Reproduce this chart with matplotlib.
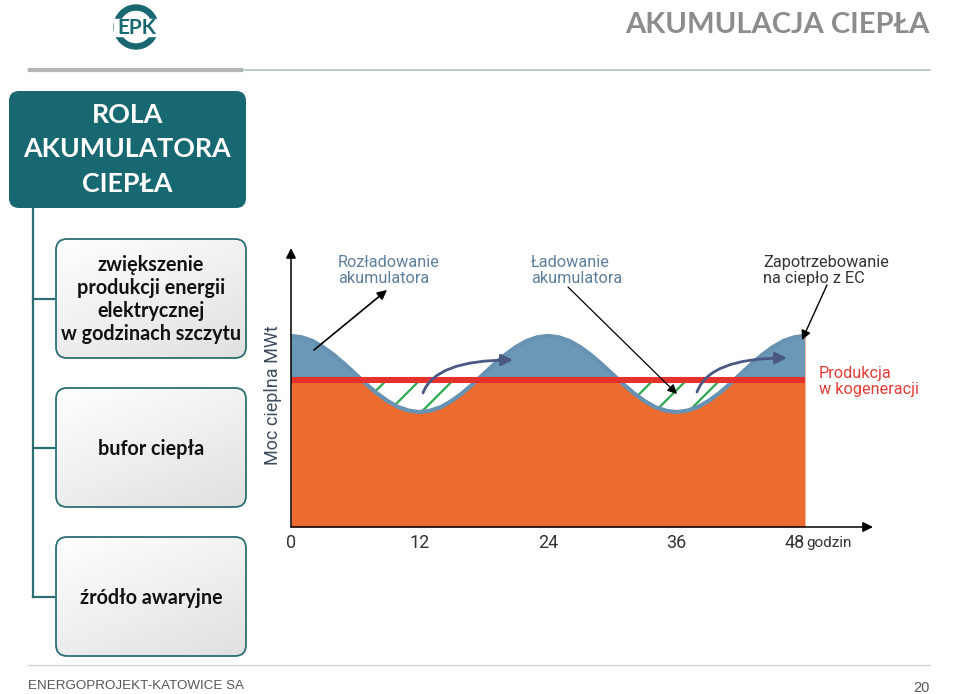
import numpy as np
import matplotlib
matplotlib.use('Agg')
import matplotlib.pyplot as plt
from matplotlib.patches import FancyBboxPatch, Wedge, Rectangle
from matplotlib.colors import LinearSegmentedColormap
from matplotlib import font_manager

# ---------------- data ----------------
hours = list(range(0, 49))
demand = [68.5, 68.0, 66.7, 64.5, 61.7, 58.4, 54.9, 51.3, 48.0, 45.2, 43.0, 41.7,
          41.2, 41.7, 43.0, 45.2, 48.0, 51.3, 54.9, 58.4, 61.7, 64.5, 66.7, 68.0,
          68.5, 68.0, 66.7, 64.5, 61.7, 58.4, 54.9, 51.3, 48.0, 45.2, 43.0, 41.7,
          41.2, 41.7, 43.0, 45.2, 48.0, 51.3, 54.9, 58.4, 61.7, 64.5, 66.7, 68.0, 68.5]
production = 52.7
tick_hours = [0, 12, 24, 36, 48]
tick_labels = ['0', '12', '24', '36', '48']
x_unit = 'godzin'
y_label = 'Moc cieplna MWt'

title = 'AKUMULACJA CIEPŁA'
head_lines = ['ROLA', 'AKUMULATORA', 'CIEPŁA']
roles = [['zwiększenie', 'produkcji energii', 'elektrycznej', 'w godzinach szczytu'],
         ['bufor ciepła'],
         ['źródło awaryjne']]
footer = 'ENERGOPROJEKT-KATOWICE SA'
page = '20'

# ---------------- style ----------------
avail = {f.name for f in font_manager.fontManager.ttflist}
NARROW = 'Liberation Sans Narrow' if 'Liberation Sans Narrow' in avail else 'Liberation Sans'
BOLDF = 'Lato' if 'Lato' in avail else 'DejaVu Sans'
CHARTF = 'Roboto' if 'Roboto' in avail else 'DejaVu Sans'

TEAL = '#186871'
TEAL_LINE = '#2b6f73'
ORANGE = '#ec6c30'
BLUE = '#6b98b7'
BLUE_LINE = '#6892b1'
RED = '#e6322d'
GREEN = '#2fa84f'
NAVY = '#4a5882'

plt.rcParams['hatch.linewidth'] = 1.6
plt.rcParams['hatch.color'] = GREEN

W, H = 960, 694
fig = plt.figure(figsize=(W / 100, H / 100), dpi=100)

# ---------------- slide background layer (pixel coordinates) ----------------
bg = fig.add_axes([0, 0, 1, 1])
bg.set_xlim(0, W)
bg.set_ylim(H, 0)
bg.axis('off')

# logo
bg.add_patch(Wedge((136, 27), 22, 0, 360, width=5, color=TEAL, zorder=1))
bg.add_patch(Rectangle((114, 19), 44, 17, color='white', zorder=2))
bg.text(136.5, 28, 'EPK', ha='center', va='center', fontsize=15, fontweight='bold',
        color=TEAL, family=BOLDF, zorder=3)

# title
bg.text(930, 25, title, ha='right', va='center', fontsize=21, fontweight='bold',
        color='#8c8c8c', family=BOLDF)

# header rules
bg.plot([28, 930], [70, 70], color='#a8c0c2', lw=1.1)
bg.plot([28, 243], [70, 70], color='#b4b4b4', lw=3, solid_capstyle='butt')

# main teal box
bg.add_patch(FancyBboxPatch((9, 91), 237, 117, boxstyle='round,pad=0,rounding_size=10',
                            fc=TEAL, ec='none', zorder=2))
for line, yy in zip(head_lines, [115, 149, 184]):
    bg.text(127.5, yy, line, ha='center', va='center', fontsize=19.3, fontweight='bold',
            color='white', family=BOLDF, zorder=3)

# connectors
box_tops = [239, 388, 537]
box_h = 119
bg.plot([33, 33], [208, box_tops[-1] + box_h / 2], color=TEAL_LINE, lw=1.6, zorder=1)
for top in box_tops:
    bg.plot([33, 56], [top + box_h / 2] * 2, color=TEAL_LINE, lw=1.6, zorder=1)

cmap = LinearSegmentedColormap.from_list('g', ['#ffffff', '#e0e0e0'])
g = np.linspace(0, 1, 128)
G = (g[:, None] * 0.6 + g[None, :] * 0.4)
for top, lines in zip(box_tops, roles):
    patch = FancyBboxPatch((56, top), 190, box_h, boxstyle='round,pad=0,rounding_size=11',
                           fc='none', ec=TEAL_LINE, lw=1.3, zorder=3)
    bg.add_patch(patch)
    im = bg.imshow(G, cmap=cmap, extent=(56, 246, top + box_h, top), origin='upper',
                   aspect='auto', zorder=2, interpolation='bilinear')
    im.set_clip_path(patch)
    n = len(lines)
    cy = top + box_h / 2 + 1
    step = 23.3
    for i, line in enumerate(lines):
        yy = cy + (i - (n - 1) / 2) * step
        bg.text(151, yy, line, ha='center', va='center', fontsize=14.2, fontweight='bold',
                color='#111111', family=BOLDF, zorder=4)

# footer
bg.plot([28, 930], [665, 665], color='#d2d2d2', lw=1)
bg.text(28, 686, footer, ha='left', va='center', fontsize=9.6, color='#555555', family=NARROW)
bg.text(930, 688, page, ha='right', va='center', fontsize=10.5, color='#555555', family=NARROW)

# ---------------- chart ----------------
X0, X48, XEND = 291, 805, 873
YB, YTOP = 527, 248
ax = fig.add_axes([X0 / W, (H - YB) / H, (XEND - X0) / W, (YB - YTOP) / H])
px_per_hour = (X48 - X0) / 48.0
px_per_unit = (YB - YTOP) / 100.0
ax.set_xlim(0, (XEND - X0) / px_per_hour)
ax.set_ylim(0, 100)
ax.patch.set_alpha(0)
for s in ax.spines.values():
    s.set_visible(False)

def dx(px):
    return (px - X0) / px_per_hour

def dy(py):
    return (YB - py) / px_per_unit

h = np.array(hours, dtype=float)
d = np.array(demand)
p = np.full_like(d, production)

ax.fill_between(h, 0, d, color=ORANGE, lw=0, zorder=1)
ax.fill_between(h, p, d, where=d >= p, interpolate=True, color=BLUE, lw=0, zorder=1.2)
ax.fill_between(h, d, p, where=d <= p, interpolate=True, facecolor='white',
                edgecolor=GREEN, hatch='/', lw=0, zorder=1.2)
ax.plot(h, d, color=BLUE_LINE, lw=3, zorder=2, solid_capstyle='butt')
ax.plot([h[0], h[-1]], [production, production], color=RED, lw=4.4, zorder=3,
        solid_capstyle='butt')

# axes arrows
arrow_kw = dict(arrowstyle='-|>', color='black', lw=1.1, mutation_scale=15, shrinkA=0, shrinkB=0)
ax.annotate('', xy=(0, 1), xytext=(0, 0), xycoords='axes fraction', arrowprops=arrow_kw,
            annotation_clip=False, zorder=5)
ax.annotate('', xy=(1, 0), xytext=(0, 0), xycoords='axes fraction', arrowprops=arrow_kw,
            annotation_clip=False, zorder=5)

# ticks
ax.set_yticks([])
ax.set_xticks(tick_hours)
ax.set_xticklabels(tick_labels)
ax.tick_params(axis='x', length=0, pad=5, labelsize=13, labelcolor='#333333')
for lab in ax.get_xticklabels():
    lab.set_family(CHARTF)
ax.get_xticklabels()[-1].set_ha('right')
ax.text(48.1, -(547.5 - YB) / (YB - YTOP), x_unit, transform=ax.get_xaxis_transform(),
        ha='left', va='baseline', fontsize=11, color='#333333', family=CHARTF)

ax.set_ylabel(y_label, fontsize=13, color='#3e4b5e', family=CHARTF)
ax.yaxis.set_label_coords(-(X0 - 281.5) / (XEND - X0), (YB - 395) / (YB - YTOP))

# annotation texts
def two_lines(x, b1, b2, l1, l2, color):
    ax.text(dx(x), dy(b1), l1, ha='left', va='baseline', fontsize=11.7, color=color,
            family=CHARTF, zorder=6, clip_on=False)
    ax.text(dx(x), dy(b2), l2, ha='left', va='baseline', fontsize=11.7, color=color,
            family=CHARTF, zorder=6, clip_on=False)

two_lines(338, 267, 283, 'Rozładowanie', 'akumulatora', '#5d7f9e')
two_lines(531, 267, 283, 'Ładowanie', 'akumulatora', '#5d7f9e')
two_lines(763, 267, 283, 'Zapotrzebowanie', 'na ciepło z EC', '#333333')
two_lines(819, 378, 394, 'Produkcja', 'w kogeneracji', '#e43c36')

def arrow(tail, head, lw=1.0, ms=14):
    ax.annotate('', xy=(dx(head[0]), dy(head[1])), xytext=(dx(tail[0]), dy(tail[1])),
                arrowprops=dict(arrowstyle='-|>', color='black', lw=lw, mutation_scale=ms,
                                shrinkA=0, shrinkB=0), zorder=6, annotation_clip=False)

arrow((314, 350), (387, 290), lw=1.2)
arrow((568, 287), (677, 394), lw=0.9)
arrow((827, 285), (802, 340), lw=1.0)

def curved(tail, head):
    ax.annotate('', xy=(dx(head[0]), dy(head[1])), xytext=(dx(tail[0]), dy(tail[1])),
                arrowprops=dict(arrowstyle='-|>', color=NAVY, lw=2.0, mutation_scale=17,
                                shrinkA=0, shrinkB=0,
                                connectionstyle='angle3,angleA=70,angleB=0'),
                zorder=6, annotation_clip=False)

curved((423, 393), (513, 360))
curved((697, 392), (787, 358))

fig.savefig('out.png', dpi=100)
